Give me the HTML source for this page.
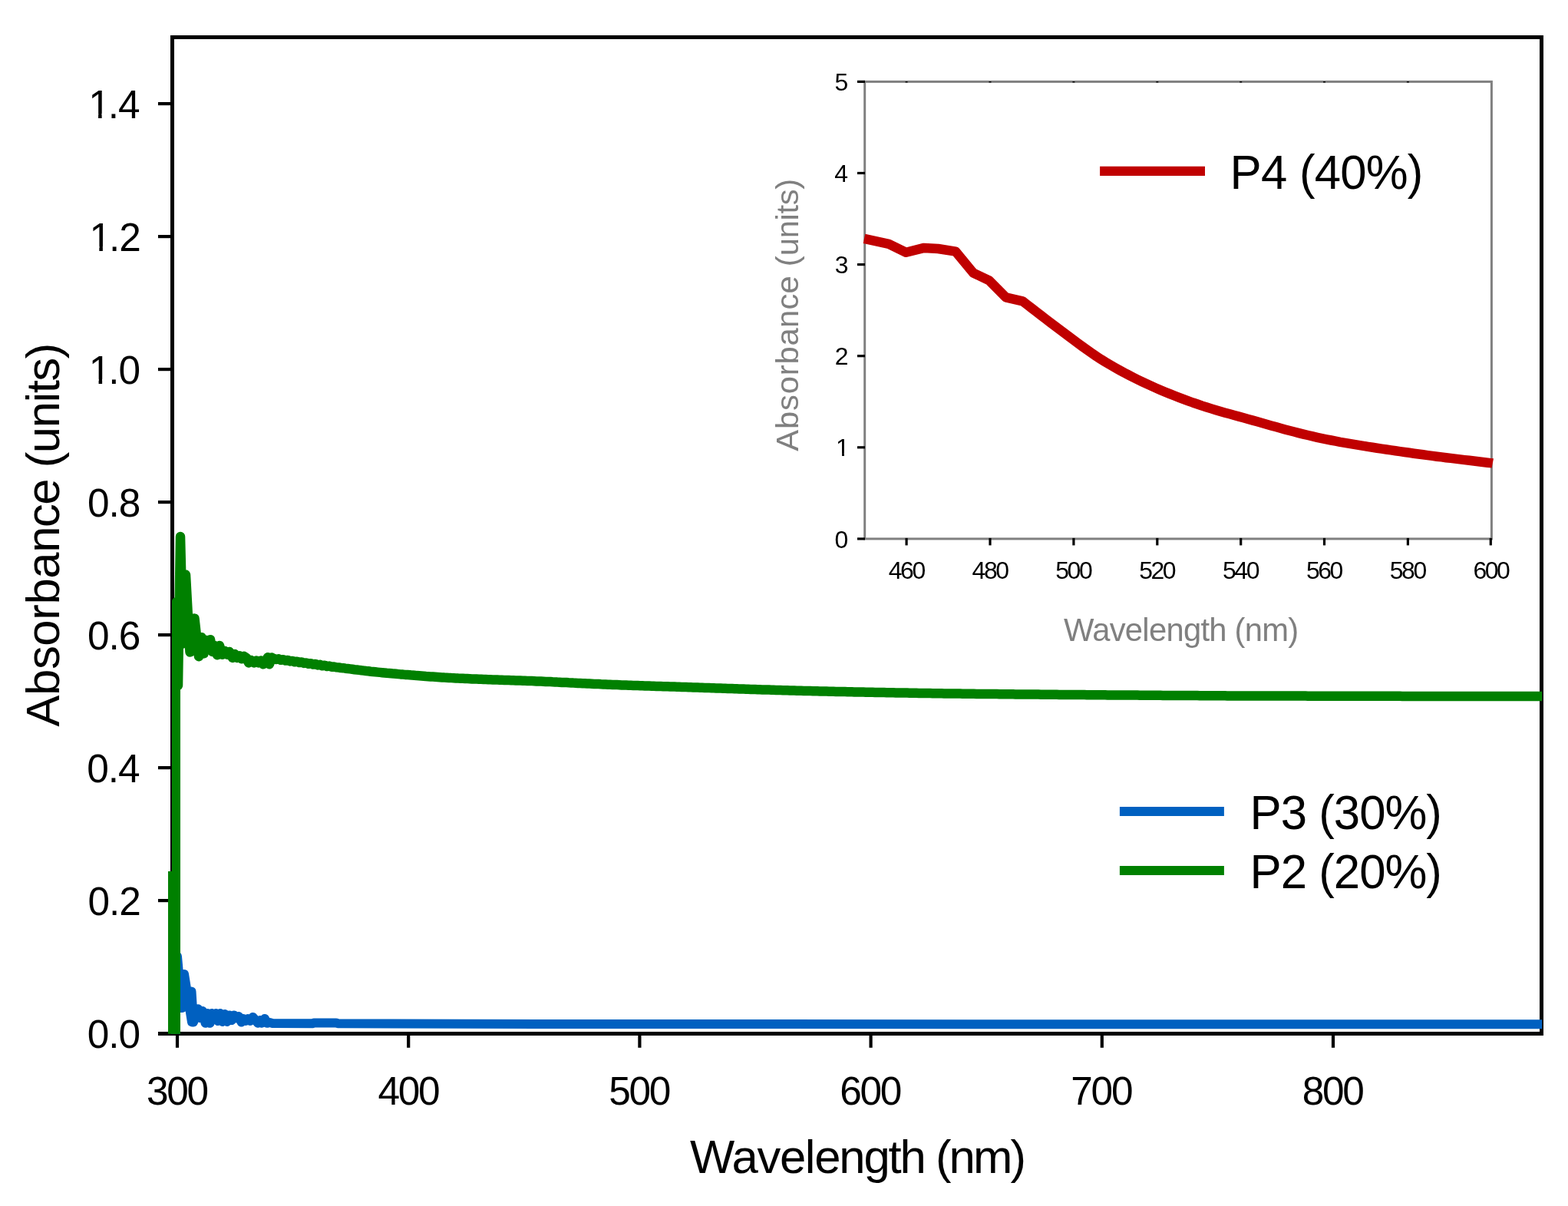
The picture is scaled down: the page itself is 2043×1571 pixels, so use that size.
<!DOCTYPE html>
<html lang="en"><head><meta charset="utf-8"><title>Absorbance spectra</title>
<style>
html,body{margin:0;padding:0;background:#fff;}
body{width:2043px;height:1571px;overflow:hidden;}
svg{display:block;}
text{font-family:"Liberation Sans",sans-serif;fill:#000;}
.g text{fill:#808080;}
</style></head><body>
<svg width="2043" height="1571" viewBox="0 0 2043 1571">
<defs><clipPath id="cp"><rect x="210" y="46" width="1799.2" height="1300.8"/></clipPath></defs>
<rect width="2043" height="1571" fill="#fff"/>
<g stroke="#000" stroke-width="5" fill="none" stroke-linecap="butt">
<path d="M224.5,1349.0 V48.55 H2008.5 V1349.0"/>
<path d="M206,1346.5 H2011.0"/>
<path d="M206,1173.1 H224.5" stroke-width="4.2"/>
<path d="M206,1000.1 H224.5" stroke-width="4.2"/>
<path d="M206,827.1 H224.5" stroke-width="4.2"/>
<path d="M206,654.1 H224.5" stroke-width="4.2"/>
<path d="M206,481.1 H224.5" stroke-width="4.2"/>
<path d="M206,308.1 H224.5" stroke-width="4.2"/>
<path d="M206,135.1 H224.5" stroke-width="4.2"/>
<path d="M231.0,1346.5 V1364.8" stroke-width="4.2"/>
<path d="M532.2,1346.5 V1364.8" stroke-width="4.2"/>
<path d="M833.4,1346.5 V1364.8" stroke-width="4.2"/>
<path d="M1134.6,1346.5 V1364.8" stroke-width="4.2"/>
<path d="M1435.8,1346.5 V1364.8" stroke-width="4.2"/>
<path d="M1737.0,1346.5 V1364.8" stroke-width="4.2"/>
</g>
<g clip-path="url(#cp)" fill="none" stroke-linejoin="round" stroke-linecap="butt">
<polyline points="229.0,1360.0 229.0,1300.0 231.0,1246.0 237.0,1313.0 240.0,1269.0 250.0,1331.5 249.5,1291.5 252.0,1331.5 258.0,1314.2 261.0,1326.0 264.0,1317.0 267.5,1332.8 270.5,1320.0 273.5,1332.8 276.0,1320.0 278.3,1326.0 281.5,1320.0 284.0,1330.0 287.0,1320.0 290.0,1331.0 293.0,1321.0 296.0,1331.0 299.0,1322.5 302.0,1329.0 305.0,1322.5 308.0,1326.4 311.0,1324.0 314.5,1331.5 317.0,1327.0 320.0,1330.0 323.0,1327.0 326.0,1330.0 329.5,1325.0 333.0,1329.0 336.0,1332.8 339.0,1329.0 341.0,1332.8 345.0,1327.0 348.0,1332.8 351.5,1332.0 355.0,1333.0 408.0,1333.2 409.0,1332.5 438.0,1332.5 440.0,1333.2 700.0,1334.0 2012.0,1334.3" stroke="#0060c0" stroke-width="12"/>
<rect x="219" y="1135" width="12" height="215" fill="#008000"/>
<rect x="224" y="786" width="11" height="564" fill="#008000"/>
<polyline points="230.2,800.0 230.2,784.0 232.0,893.0 235.0,699.0 238.5,838.6 242.0,748.6 247.5,849.5 253.5,805.6 259.0,855.2 262.5,830.2 265.5,851.4 268.5,834.0 271.5,840.0 274.0,833.2 277.0,849.0 280.0,841.0 283.0,853.2 286.0,841.0 289.5,852.7 293.0,848.0 296.0,852.7 299.0,849.0 303.0,856.9 306.0,852.0 309.0,856.9 312.0,854.2 315.0,858.3 318.0,855.0 321.0,857.0 324.0,863.4 327.0,860.0 331.0,863.4 334.0,860.6 337.0,863.4 340.0,860.6 343.0,865.3 346.0,862.0 349.0,856.2 351.0,865.3 354.0,856.5 357.0,858.0 360.0,858.9 363.0,858.3 366.0,859.8 369.0,859.2 372.0,860.6 375.0,860.0 378.0,861.4 381.0,860.9 384.0,862.3 387.0,861.7 390.0,863.1 393.0,862.5 396.0,863.9 399.0,863.4 402.0,864.8 405.0,864.2 408.0,865.6 411.0,865.0 414.0,866.4 417.0,865.8 420.0,867.3 423.0,866.7 426.0,868.0 429.0,867.6 432.0,868.7 435.0,868.5 438.0,869.3 441.0,869.4 444.0,870.0 447.0,870.2 450.0,870.7 453.0,871.0 456.0,871.4 459.0,871.8 462.0,872.2 465.0,872.5 468.0,872.9 471.0,873.3 474.0,873.6 477.0,874.0 480.0,874.3 483.0,874.7 486.0,875.0 489.0,875.3 492.0,875.6 495.0,875.9 498.0,876.2 501.0,876.5 504.0,876.8 507.0,877.0 510.0,877.3 513.0,877.6 516.0,877.8 519.0,878.1 522.0,878.4 525.0,878.6 528.0,878.9 531.0,879.1 534.0,879.3 537.0,879.6 540.0,879.8 543.0,880.1 546.0,880.3 549.0,880.5 552.0,880.7 555.0,881.0 558.0,881.2 561.0,881.4 564.0,881.6 567.0,881.8 570.0,882.0 573.0,882.2 576.0,882.4 579.0,882.6 582.0,882.7 585.0,882.9 588.0,883.1 591.0,883.2 594.0,883.4 597.0,883.6 600.0,883.7 603.0,883.8 606.0,884.0 609.0,884.1 612.0,884.2 615.0,884.4 618.0,884.5 621.0,884.6 624.0,884.7 627.0,884.8 630.0,885.0 633.0,885.1 636.0,885.2 639.0,885.3 642.0,885.4 645.0,885.5 648.0,885.6 651.0,885.7 654.0,885.8 657.0,885.9 660.0,886.0 663.0,886.1 666.0,886.2 669.0,886.3 672.0,886.4 675.0,886.5 678.0,886.6 681.0,886.7 684.0,886.8 687.0,886.9 690.0,887.0 693.0,887.1 696.0,887.2 699.0,887.4 702.0,887.5 705.0,887.6 708.0,887.7 711.0,887.9 714.0,888.0 717.0,888.1 720.0,888.3 723.0,888.4 726.0,888.6 729.0,888.7 732.0,888.9 735.0,889.0 738.0,889.1 741.0,889.3 744.0,889.4 747.0,889.6 750.0,889.7 753.0,889.9 756.0,890.0 759.0,890.2 762.0,890.3 765.0,890.5 768.0,890.6 771.0,890.7 774.0,890.9 777.0,891.0 780.0,891.1 783.0,891.3 786.0,891.4 789.0,891.5 792.0,891.7 795.0,891.8 798.0,891.9 801.0,892.0 804.0,892.1 807.0,892.2 810.0,892.4 813.0,892.5 816.0,892.6 819.0,892.7 822.0,892.8 825.0,892.9 828.0,893.0 831.0,893.1 834.0,893.2 837.0,893.3 840.0,893.4 843.0,893.5 846.0,893.6 849.0,893.7 852.0,893.8 855.0,893.9 858.0,894.0 861.0,894.1 864.0,894.2 867.0,894.3 870.0,894.3 873.0,894.4 876.0,894.5 879.0,894.6 882.0,894.7 885.0,894.8 888.0,894.9 891.0,895.0 894.0,895.1 897.0,895.2 900.0,895.3 903.0,895.4 906.0,895.5 909.0,895.6 912.0,895.7 915.0,895.8 918.0,895.9 921.0,896.0 924.0,896.1 927.0,896.2 930.0,896.3 933.0,896.4 936.0,896.5 939.0,896.6 942.0,896.7 945.0,896.8 948.0,896.9 951.0,897.0 954.0,897.1 957.0,897.2 960.0,897.3 963.0,897.4 966.0,897.5 969.0,897.6 972.0,897.7 975.0,897.8 978.0,897.9 981.0,898.0 984.0,898.1 987.0,898.2 990.0,898.3 993.0,898.4 996.0,898.4 999.0,898.5 1002.0,898.6 1005.0,898.7 1008.0,898.8 1011.0,898.9 1014.0,899.0 1017.0,899.1 1020.0,899.2 1023.0,899.2 1026.0,899.3 1029.0,899.4 1032.0,899.5 1035.0,899.6 1038.0,899.7 1041.0,899.7 1044.0,899.8 1047.0,899.9 1050.0,900.0 1053.0,900.0 1056.0,900.1 1059.0,900.2 1062.0,900.3 1065.0,900.3 1068.0,900.4 1071.0,900.5 1074.0,900.5 1077.0,900.6 1080.0,900.7 1083.0,900.7 1086.0,900.8 1089.0,900.9 1092.0,900.9 1095.0,901.0 1098.0,901.1 1101.0,901.1 1104.0,901.2 1107.0,901.2 1110.0,901.3 1113.0,901.4 1116.0,901.4 1119.0,901.5 1122.0,901.5 1125.0,901.6 1128.0,901.7 1131.0,901.7 1134.0,901.8 1137.0,901.8 1140.0,901.9 1143.0,901.9 1146.0,902.0 1149.0,902.1 1152.0,902.1 1155.0,902.2 1158.0,902.2 1161.0,902.3 1164.0,902.3 1167.0,902.4 1170.0,902.4 1173.0,902.5 1176.0,902.5 1179.0,902.6 1182.0,902.6 1185.0,902.7 1188.0,902.7 1191.0,902.8 1194.0,902.8 1197.0,902.9 1200.0,902.9 1203.0,903.0 1206.0,903.0 1209.0,903.1 1212.0,903.1 1215.0,903.2 1218.0,903.2 1221.0,903.3 1224.0,903.3 1227.0,903.3 1230.0,903.4 1233.0,903.4 1236.0,903.5 1239.0,903.5 1242.0,903.5 1245.0,903.6 1248.0,903.6 1251.0,903.6 1254.0,903.7 1257.0,903.7 1260.0,903.7 1263.0,903.8 1266.0,903.8 1269.0,903.8 1272.0,903.9 1275.0,903.9 1278.0,903.9 1281.0,904.0 1284.0,904.0 1287.0,904.0 1290.0,904.0 1293.0,904.1 1296.0,904.1 1299.0,904.1 1302.0,904.2 1305.0,904.2 1308.0,904.2 1311.0,904.3 1314.0,904.3 1317.0,904.3 1320.0,904.3 1323.0,904.4 1326.0,904.4 1329.0,904.4 1332.0,904.5 1335.0,904.5 1338.0,904.5 1341.0,904.5 1344.0,904.6 1347.0,904.6 1350.0,904.6 1353.0,904.6 1356.0,904.7 1359.0,904.7 1362.0,904.7 1365.0,904.7 1368.0,904.8 1371.0,904.8 1374.0,904.8 1377.0,904.8 1380.0,904.9 1383.0,904.9 1386.0,904.9 1389.0,904.9 1392.0,905.0 1395.0,905.0 1398.0,905.0 1401.0,905.0 1404.0,905.1 1407.0,905.1 1410.0,905.1 1413.0,905.1 1416.0,905.2 1419.0,905.2 1422.0,905.2 1425.0,905.2 1428.0,905.2 1431.0,905.3 1434.0,905.3 1437.0,905.3 1440.0,905.3 1443.0,905.4 1446.0,905.4 1449.0,905.4 1452.0,905.4 1455.0,905.4 1458.0,905.5 1461.0,905.5 1464.0,905.5 1467.0,905.5 1470.0,905.5 1473.0,905.6 1476.0,905.6 1479.0,905.6 1482.0,905.6 1485.0,905.7 1488.0,905.7 1491.0,905.7 1494.0,905.7 1497.0,905.7 1500.0,905.8 1503.0,905.8 1506.0,905.8 1509.0,905.8 1512.0,905.8 1515.0,905.9 1518.0,905.9 1521.0,905.9 1524.0,905.9 1527.0,905.9 1530.0,906.0 1533.0,906.0 1536.0,906.0 1539.0,906.0 1542.0,906.0 1545.0,906.1 1548.0,906.1 1551.0,906.1 1554.0,906.1 1557.0,906.1 1560.0,906.1 1563.0,906.2 1566.0,906.2 1569.0,906.2 1572.0,906.2 1575.0,906.2 1578.0,906.2 1581.0,906.3 1584.0,906.3 1587.0,906.3 1590.0,906.3 1593.0,906.3 1596.0,906.3 1599.0,906.4 1602.0,906.4 1605.0,906.4 1608.0,906.4 1611.0,906.4 1614.0,906.4 1617.0,906.4 1620.0,906.4 1623.0,906.4 1626.0,906.5 1629.0,906.5 1632.0,906.5 1635.0,906.5 1638.0,906.5 1641.0,906.5 1644.0,906.5 1647.0,906.5 1650.0,906.5 1653.0,906.5 1656.0,906.5 1659.0,906.5 1662.0,906.6 1665.0,906.6 1668.0,906.6 1671.0,906.6 1674.0,906.6 1677.0,906.6 1680.0,906.6 1683.0,906.6 1686.0,906.6 1689.0,906.6 1692.0,906.6 1695.0,906.6 1698.0,906.6 1701.0,906.6 1704.0,906.7 1707.0,906.7 1710.0,906.7 1713.0,906.7 1716.0,906.7 1719.0,906.7 1722.0,906.7 1725.0,906.7 1728.0,906.7 1731.0,906.7 1734.0,906.7 1737.0,906.7 1740.0,906.7 1743.0,906.7 1746.0,906.7 1749.0,906.7 1752.0,906.7 1755.0,906.7 1758.0,906.7 1761.0,906.8 1764.0,906.8 1767.0,906.8 1770.0,906.8 1773.0,906.8 1776.0,906.8 1779.0,906.8 1782.0,906.8 1785.0,906.8 1788.0,906.8 1791.0,906.8 1794.0,906.8 1797.0,906.8 1800.0,906.8 1803.0,906.8 1806.0,906.8 1809.0,906.8 1812.0,906.8 1815.0,906.8 1818.0,906.8 1821.0,906.8 1824.0,906.8 1827.0,906.9 1830.0,906.9 1833.0,906.9 1836.0,906.9 1839.0,906.9 1842.0,906.9 1845.0,906.9 1848.0,906.9 1851.0,906.9 1854.0,906.9 1857.0,906.9 1860.0,906.9 1863.0,906.9 1866.0,906.9 1869.0,906.9 1872.0,906.9 1875.0,906.9 1878.0,906.9 1881.0,906.9 1884.0,906.9 1887.0,906.9 1890.0,906.9 1893.0,906.9 1896.0,906.9 1899.0,906.9 1902.0,906.9 1905.0,907.0 1908.0,907.0 1911.0,907.0 1914.0,907.0 1917.0,907.0 1920.0,907.0 1923.0,907.0 1926.0,907.0 1929.0,907.0 1932.0,907.0 1935.0,907.0 1938.0,907.0 1941.0,907.0 1944.0,907.0 1947.0,907.0 1950.0,907.0 1953.0,907.0 1956.0,907.0 1959.0,907.0 1962.0,907.0 1965.0,907.0 1968.0,907.0 1971.0,907.0 1974.0,907.0 1977.0,907.0 1980.0,907.1 1983.0,907.1 1986.0,907.1 1989.0,907.1 1992.0,907.1 1995.0,907.1 1998.0,907.1 2001.0,907.1 2004.0,907.1 2007.0,907.1 2010.0,907.1" stroke="#008000" stroke-width="12.5"/>
</g>
<text transform="translate(113.85,1364.80) scale(1.0,1.025)" font-size="51.4" letter-spacing="-1.15">0.0</text>
<text transform="translate(114.60,1191.80) scale(1.0,1.025)" font-size="51.4" letter-spacing="-1.15">0.2</text>
<text transform="translate(113.35,1018.80) scale(1.0,1.025)" font-size="51.4" letter-spacing="-1.15">0.4</text>
<text transform="translate(114.10,845.80) scale(1.0,1.025)" font-size="51.4" letter-spacing="-1.15">0.6</text>
<text transform="translate(114.10,672.80) scale(1.0,1.025)" font-size="51.4" letter-spacing="-1.15">0.8</text>
<g transform="translate(113.85,499.80) scale(1.0,1.025)"><text font-size="51.4" letter-spacing="-1.15" dx="1.8 -1.8">1.0</text><rect x="4.22" y="-5.84" width="10.51" height="7.04" fill="#fff"/><rect x="19.27" y="-5.84" width="9.81" height="7.04" fill="#fff"/></g>
<g transform="translate(114.60,326.80) scale(1.0,1.025)"><text font-size="51.4" letter-spacing="-1.15" dx="1.8 -1.8">1.2</text><rect x="4.22" y="-5.84" width="10.51" height="7.04" fill="#fff"/><rect x="19.27" y="-5.84" width="9.81" height="7.04" fill="#fff"/></g>
<g transform="translate(113.35,153.80) scale(1.0,1.025)"><text font-size="51.4" letter-spacing="-1.15" dx="1.8 -1.8">1.4</text><rect x="4.22" y="-5.84" width="10.51" height="7.04" fill="#fff"/><rect x="19.27" y="-5.84" width="9.81" height="7.04" fill="#fff"/></g>
<text transform="translate(190.95,1438.70) scale(1.0,1.025)" font-size="51.4" letter-spacing="-2.325">300</text>
<text transform="translate(492.53,1438.70) scale(1.0,1.025)" font-size="51.4" letter-spacing="-2.325">400</text>
<text transform="translate(793.23,1438.70) scale(1.0,1.025)" font-size="51.4" letter-spacing="-2.325">500</text>
<text transform="translate(1094.30,1438.70) scale(1.0,1.025)" font-size="51.4" letter-spacing="-2.325">600</text>
<text transform="translate(1395.37,1438.70) scale(1.0,1.025)" font-size="51.4" letter-spacing="-2.325">700</text>
<text transform="translate(1696.83,1438.70) scale(1.0,1.025)" font-size="51.4" letter-spacing="-2.325">800</text>
<text transform="translate(899.05,1528.10)" font-size="61.7" letter-spacing="-2.161" dx="0 0.75 0.75 0.75 0.75 0.75 0 0 0 0 0 -0.75 -0.75 -0.75 -0.75">Wavelength (nm)</text>
<text transform="translate(76.5,946.65) rotate(-90) scale(1,0.985)" font-size="61.7" letter-spacing="-1.5" dx="0 1.08 1.08 1.08 1.08 1.08 1.08 1.08 0 0 0 0 0 0 0 0 0 0">Absorbance (units)</text>
<path d="M1458.9,1057 H1594.9" stroke="#0060c0" stroke-width="12"/>
<path d="M1458.9,1134 H1594.9" stroke="#008000" stroke-width="12"/>
<text transform="translate(1628.60,1080.00) scale(1.0,1.03)" font-size="61.7" letter-spacing="-0.979">P3 (30%)</text>
<text transform="translate(1628.60,1156.50) scale(1.0,1.03)" font-size="61.7" letter-spacing="-0.979">P2 (20%)</text>
<rect x="1126.7" y="106.4" width="816.7" height="595.5" fill="none" stroke="#808080" stroke-width="3"/>
<g stroke="#000" stroke-width="3.2">
<path d="M1117,701.9 H1127.0"/>
<path d="M1117,582.8 H1127.0"/>
<path d="M1117,463.7 H1127.0"/>
<path d="M1117,344.6 H1127.0"/>
<path d="M1117,225.5 H1127.0"/>
<path d="M1117,106.4 H1127.0"/>
<path d="M1181.1,700.9 V710.4"/>
<path d="M1290.0,700.9 V710.4"/>
<path d="M1398.9,700.9 V710.4"/>
<path d="M1507.8,700.9 V710.4"/>
<path d="M1616.7,700.9 V710.4"/>
<path d="M1725.5,700.9 V710.4"/>
<path d="M1834.4,700.9 V710.4"/>
<path d="M1942.3,700.9 V710.4"/>
</g>
<rect x="1179.6" y="106.1" width="3" height="1.4" fill="#000"/>
<rect x="1288.5" y="106.1" width="3" height="1.4" fill="#000"/>
<rect x="1397.4" y="106.1" width="3" height="1.4" fill="#000"/>
<rect x="1506.3" y="106.1" width="3" height="1.4" fill="#000"/>
<rect x="1615.2" y="106.1" width="3" height="1.4" fill="#000"/>
<rect x="1724.0" y="106.1" width="3" height="1.4" fill="#000"/>
<rect x="1832.9" y="106.1" width="3" height="1.4" fill="#000"/>
<polyline points="1126.0,310.9 1158.1,317.8 1180.6,328.8 1204.0,322.9 1222.3,324.0 1245.2,327.7 1268.2,355.6 1288.8,365.3 1310.6,387.3 1332.3,392.3 1338.3,396.9 1344.3,401.5 1350.3,406.2 1356.3,410.8 1362.3,415.4 1368.3,419.9 1374.3,424.4 1380.3,428.9 1386.3,433.4 1392.3,438.0 1398.3,442.5 1404.3,447.0 1410.3,451.4 1416.3,455.7 1422.3,459.9 1428.3,464.0 1434.3,467.9 1440.3,471.6 1446.3,475.1 1452.3,478.6 1458.3,482.0 1464.3,485.3 1470.3,488.4 1476.3,491.5 1482.3,494.5 1488.3,497.4 1494.3,500.2 1500.3,502.9 1506.3,505.6 1512.3,508.2 1518.3,510.7 1524.3,513.1 1530.3,515.5 1536.3,517.8 1542.3,520.1 1548.3,522.3 1554.3,524.5 1560.3,526.5 1566.3,528.6 1572.3,530.5 1578.3,532.4 1584.3,534.2 1590.3,536.0 1596.3,537.7 1602.3,539.3 1608.3,541.0 1614.3,542.6 1620.3,544.3 1626.3,546.0 1632.3,547.6 1638.3,549.3 1644.3,551.0 1650.3,552.7 1656.3,554.4 1662.3,556.1 1668.3,557.7 1674.3,559.4 1680.3,561.0 1686.3,562.5 1692.3,564.1 1698.3,565.6 1704.3,567.0 1710.3,568.4 1716.3,569.8 1722.3,571.1 1728.3,572.3 1734.3,573.5 1740.3,574.6 1746.3,575.8 1752.3,576.8 1758.3,577.9 1764.3,578.9 1770.3,579.9 1776.3,580.9 1782.3,581.9 1788.3,582.8 1794.3,583.7 1800.3,584.6 1806.3,585.5 1812.3,586.4 1818.3,587.3 1824.3,588.1 1830.3,589.0 1836.3,589.8 1842.3,590.7 1848.3,591.5 1854.3,592.3 1860.3,593.1 1866.3,593.9 1872.3,594.7 1878.3,595.4 1884.3,596.2 1890.3,596.9 1896.3,597.6 1902.3,598.4 1908.3,599.1 1914.3,599.8 1920.3,600.5 1926.3,601.2 1932.3,602.0 1938.3,602.7 1944.3,603.4 1944.8,603.5" fill="none" stroke="#c00000" stroke-width="12.5" stroke-linejoin="round"/>
<text transform="translate(1087.40,713.50) scale(1.0683,1.025)" font-size="29.9" letter-spacing="0">0</text>
<g transform="translate(1087.65,594.40) scale(1.0683,1.025)"><text font-size="29.9" letter-spacing="0" dx="1.3">1</text><rect x="2.08" y="-4.23" width="6.74" height="5.43" fill="#fff"/><rect x="11.46" y="-4.23" width="6.21" height="5.43" fill="#fff"/></g>
<text transform="translate(1087.65,475.30) scale(1.0683,1.025)" font-size="29.9" letter-spacing="0">2</text>
<text transform="translate(1087.65,356.20) scale(1.0683,1.025)" font-size="29.9" letter-spacing="0">3</text>
<text transform="translate(1087.15,237.10) scale(1.0683,1.025)" font-size="29.9" letter-spacing="0">4</text>
<text transform="translate(1087.40,118.00) scale(1.0683,1.025)" font-size="29.9" letter-spacing="0">5</text>
<text transform="translate(1157.74,754.20) scale(1.0683,1.025)" font-size="29.9" letter-spacing="-2.27">460</text>
<text transform="translate(1266.62,754.20) scale(1.0683,1.025)" font-size="29.9" letter-spacing="-2.27">480</text>
<text transform="translate(1375.25,754.20) scale(1.0683,1.025)" font-size="29.9" letter-spacing="-2.27">500</text>
<text transform="translate(1484.13,754.20) scale(1.0683,1.025)" font-size="29.9" letter-spacing="-2.27">520</text>
<text transform="translate(1593.01,754.20) scale(1.0683,1.025)" font-size="29.9" letter-spacing="-2.27">540</text>
<text transform="translate(1701.89,754.20) scale(1.0683,1.025)" font-size="29.9" letter-spacing="-2.27">560</text>
<text transform="translate(1810.77,754.20) scale(1.0683,1.025)" font-size="29.9" letter-spacing="-2.27">580</text>
<text transform="translate(1919.40,754.20) scale(1.0683,1.025)" font-size="29.9" letter-spacing="-2.27">600</text>
<g class="g">
<text transform="translate(1386.05,834.90)" font-size="41.8" letter-spacing="-0.746">Wavelength (nm)</text>
<text transform="translate(1040.0,587.65) rotate(-90) scale(1,0.98)" font-size="41.8" letter-spacing="0.191" dx="0 0.6 0.6 0.6 0.6 0.6 0.6 0 0 0 0 0 0 -0.6 -0.6 -0.6 -0.6 -0.6">Absorbance (units)</text>
</g>
<path d="M1433.1,222.9 H1570" stroke="#c00000" stroke-width="12.2"/>
<text transform="translate(1602.60,245.50) scale(1.0,1.03)" font-size="61.7" letter-spacing="-0.764">P4 (40%)</text>
</svg></body></html>
